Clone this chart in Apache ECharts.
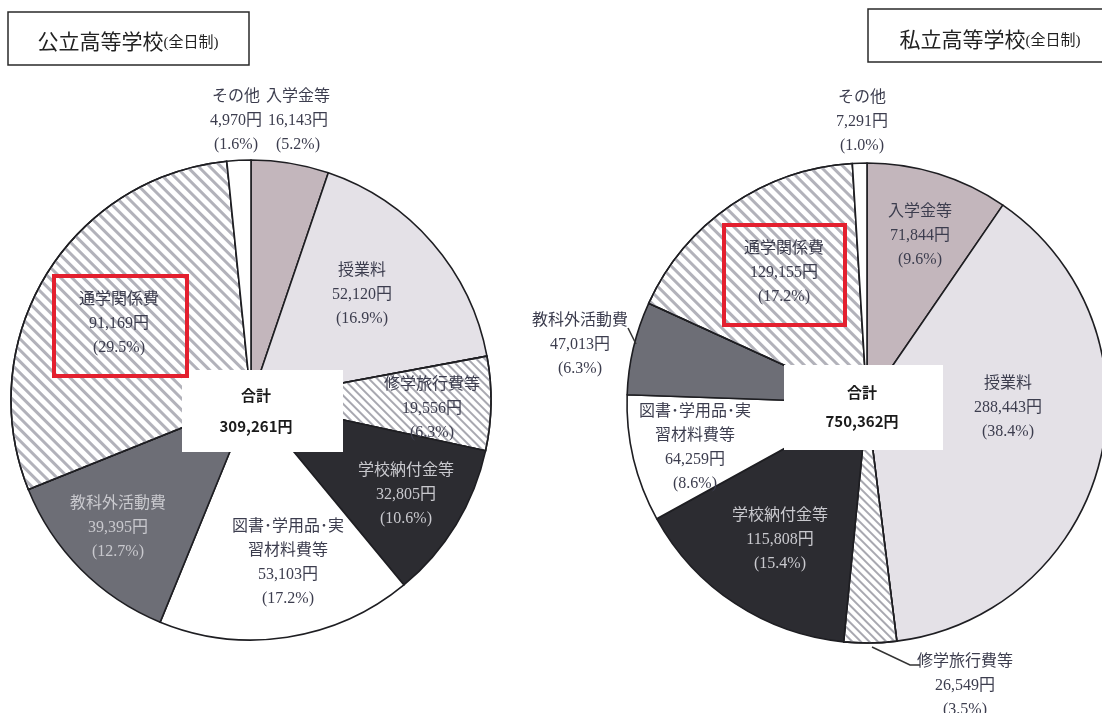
<!DOCTYPE html>
<html><head><meta charset="utf-8">
<script src="https://cdn.jsdelivr.net/npm/echarts@6/dist/echarts.min.js"></script>
<style>html,body{margin:0;padding:0;background:#fff}#c{width:1102px;height:713px}</style>
</head><body><div id="c"></div>
<script>
// ---- data ----
const categories = ['入学金等','授業料','修学旅行費等','学校納付金等','図書･学用品･実\n習材料費等','教科外活動費','通学関係費','その他'];
const publicValues = [16143, 52120, 19556, 32805, 53103, 39395, 91169, 4970];
const publicPct = ['5.2%','16.9%','6.3%','10.6%','17.2%','12.7%','29.5%','1.6%'];
const privateValues = [71844, 288443, 26549, 115808, 64259, 47013, 129155, 7291];
const privatePct = ['9.6%','38.4%','3.5%','15.4%','8.6%','6.3%','17.2%','1.0%'];
const titles = ['公立高等学校', '私立高等学校'];
const subTitle = '(全日制)';
const totalLabel = '合計';
const publicTotal = '309,261円';
const privateTotal = '750,362円';

// ---- styles ----
const LABEL_FONT = "'Liberation Serif','Noto Sans CJK JP',serif";
const wideHatch = {symbol:'rect', symbolSize:1, dashArrayX:[[1,0]], dashArrayY:[3,5], rotation:Math.PI/4, color:'#b2b2ba'};
const fineHatch = {symbol:'rect', symbolSize:1, dashArrayX:[[1,0]], dashArrayY:[1.3,3.2], rotation:Math.PI/4, color:'#a8a8b0'};
const sliceStyles = [
  {color:'#c3b6bc'},
  {color:'#e4e1e7'},
  {color:'#ffffff', decal: fineHatch},
  {color:'#2c2c31'},
  {color:'#ffffff'},
  {color:'#6d6e76'},
  {color:'#ffffff', decal: wideHatch},
  {color:'#ffffff'}
];
const DARK_TXT = '#3c3d4e', LIGHT_TXT = '#c9c9ce';
const publicLabelColors = [DARK_TXT,DARK_TXT,DARK_TXT,LIGHT_TXT,DARK_TXT,LIGHT_TXT,DARK_TXT,DARK_TXT];
const privateLabelColors = [DARK_TXT,DARK_TXT,DARK_TXT,LIGHT_TXT,DARK_TXT,DARK_TXT,DARK_TXT,DARK_TXT];
const publicLabelPos = [[298,121],[362,295],[432,409],[406,495],[288,563],[118,528],[119,324],[236,121]];
const privateLabelPos = [[920,236],[1008,408],[965,686],[780,540],[695,448],[580,345],[784,273],[862,122]];

function fmt(n){ return n.toLocaleString('en-US'); }
function buildData(values, colors){
  return values.map((v,i)=>({
    name: categories[i], value: v,
    itemStyle: Object.assign({borderColor:'#1e1e22', borderWidth:1.6}, sliceStyles[i]),
    label: {color: colors[i]}
  }));
}
function pieSeries(values, pct, colors, center, pos){
  return {
    type:'pie', center: center, radius: 240, startAngle: 90, clockwise: true,
    avoidLabelOverlap:false, silent:true, animation:false,
    data: buildData(values, colors),
    label: {
      show:true, position:'inside', fontFamily: LABEL_FONT, fontSize:16, lineHeight:24,
      align:'center',
      formatter: p => p.name + '\n' + fmt(p.value) + '円\n(' + pct[p.dataIndex] + ')'
    },
    labelLine:{show:false},
    labelLayout: p => ({x: pos[p.dataIndex][0], y: pos[p.dataIndex][1], align:'center', verticalAlign:'middle'})
  };
}

const chart = echarts.init(document.getElementById('c'), null, {renderer:'canvas'});
const titleRich = {a:{fontFamily:LABEL_FONT, fontSize:21, fill:'#222'}, b:{fontFamily:LABEL_FONT, fontSize:15, fill:'#222'}};
const sansBold = {fontFamily:"'Noto Sans CJK JP',sans-serif", fontWeight:'bold', fontSize:15, fill:'#1a1a1a', align:'center', verticalAlign:'middle'};
chart.setOption({
  backgroundColor:'#fff',
  animation:false,
  series:[
    pieSeries(publicValues, publicPct, publicLabelColors, [251,400], publicLabelPos),
    pieSeries(privateValues, privatePct, privateLabelColors, [867,403], privateLabelPos)
  ],
  graphic:[
    // title boxes
    {type:'rect', shape:{x:8,y:12,width:241,height:53}, style:{fill:'#fff', stroke:'#2a2a2a', lineWidth:1.5}, z:10},
    {type:'text', x:128, y:43, z:11, style:{text:'{a|'+titles[0]+'}{b|'+subTitle+'}', align:'center', verticalAlign:'middle', rich:titleRich}},
    {type:'rect', shape:{x:868,y:9,width:245,height:53}, style:{fill:'#fff', stroke:'#2a2a2a', lineWidth:1.5}, z:10},
    {type:'text', x:990, y:41, z:11, style:{text:'{a|'+titles[1]+'}{b|'+subTitle+'}', align:'center', verticalAlign:'middle', rich:titleRich}},
    // center total boxes
    {type:'rect', shape:{x:182,y:370,width:161,height:82}, style:{fill:'#fff'}, z:10},
    {type:'text', x:256, y:395, z:11, style:Object.assign({text:totalLabel}, sansBold)},
    {type:'text', x:256, y:426, z:11, style:Object.assign({text:publicTotal}, sansBold)},
    {type:'rect', shape:{x:784,y:365,width:159,height:85}, style:{fill:'#fff'}, z:10},
    {type:'text', x:862, y:392, z:11, style:Object.assign({text:totalLabel}, sansBold)},
    {type:'text', x:862, y:421, z:11, style:Object.assign({text:privateTotal}, sansBold)},
    // red highlight boxes
    {type:'rect', shape:{x:54,y:276,width:133,height:100}, style:{fill:'none', stroke:'#e3202f', lineWidth:4}, z:12},
    {type:'rect', shape:{x:724,y:225,width:121,height:100}, style:{fill:'none', stroke:'#e3202f', lineWidth:4}, z:12},
    // leader lines
    {type:'polyline', shape:{points:[[628,328],[636,344]]}, style:{stroke:'#333', lineWidth:1.5, fill:'none'}, z:12},
    {type:'polyline', shape:{points:[[872,647],[910,665],[920,665]]}, style:{stroke:'#333', lineWidth:1.5, fill:'none'}, z:12}
  ]
});
</script></body></html>
